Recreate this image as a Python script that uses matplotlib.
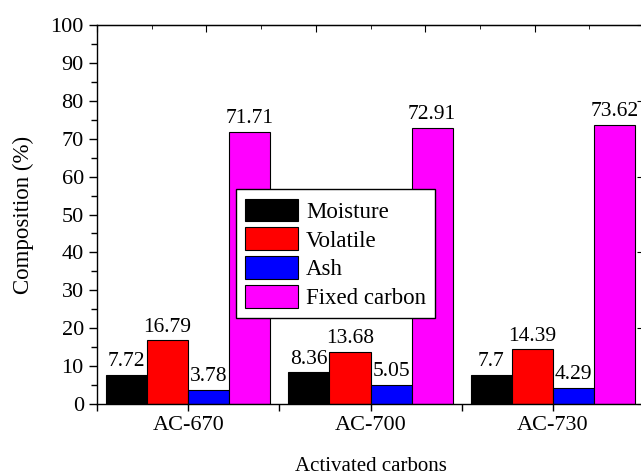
import numpy as np
import matplotlib
matplotlib.use('Agg')
import matplotlib.pyplot as plt
from matplotlib.ticker import MultipleLocator

plt.rcParams['font.family'] = ['Liberation Serif', 'DejaVu Serif']

samples = ['AC-670', 'AC-700', 'AC-730']
components = ['Moisture', 'Volatile', 'Ash', 'Fixed carbon']
moisture = [7.72, 8.36, 7.7]
volatile = [16.79, 13.68, 14.39]
ash = [3.78, 5.05, 4.29]
fixed_carbon = [71.71, 72.91, 73.62]
colors = ['#000000', '#ff0000', '#0000ff', '#ff00ff']

fig = plt.figure(figsize=(6.41, 4.75), dpi=100)
ax = fig.add_axes([97/641, 71/475, 547/641, 379/475])

x = np.arange(1, len(samples) + 1)
w = 0.225
series = [moisture, volatile, ash, fixed_carbon]
for i, (vals, name, c) in enumerate(zip(series, components, colors)):
    pos = x + (i - 1.5) * w
    ax.bar(pos, vals, width=w, color=c, edgecolor='black', linewidth=0.8, label=name)
    for p, v in zip(pos, vals):
        ax.text(p, v + 1.0, f'{v:g}', ha='center', va='bottom', fontsize=15.5)

ax.set_xlim(0.5, 3.5)
ax.set_ylim(0, 100)
ax.set_xticks(x)
ax.set_xticklabels(samples)
ax.xaxis.set_minor_locator(MultipleLocator(1, offset=0.5))
ax.yaxis.set_major_locator(MultipleLocator(10))
ax.yaxis.set_minor_locator(MultipleLocator(5))
ax.tick_params(axis='both', which='major', labelsize=16, direction='out', length=6, width=1)
ax.tick_params(axis='both', which='minor', direction='out', length=4, width=1)
ax.tick_params(axis='x', which='both', length=5)

for s in ax.spines.values():
    s.set_linewidth(1)

# decorative top / right axes (Origin style)
top = ax.secondary_xaxis('top', functions=(lambda t: (t - 0.5) * 10 / 3, lambda t: t * 3 / 10 + 0.5))
top.xaxis.set_major_locator(MultipleLocator(2))
top.xaxis.set_minor_locator(MultipleLocator(1))
top.tick_params(which='major', direction='in', length=5, labeltop=False)
top.tick_params(which='minor', direction='in', length=3)
right = ax.secondary_yaxis('right')
right.yaxis.set_major_locator(MultipleLocator(20))
right.tick_params(direction='in', length=5, labelright=False)

ax.set_ylabel('Composition (%)', fontsize=16.5, labelpad=12)
ax.set_xlabel('Activated carbons', fontsize=15, labelpad=16)

leg = ax.legend(loc='upper left', bbox_to_anchor=(0.254, 0.566), fontsize=16.5,
                frameon=True, fancybox=False, edgecolor='black', framealpha=1,
                handlelength=2.3, handleheight=1.15, labelspacing=0.2,
                handletextpad=0.35, borderpad=0.4, borderaxespad=0)
leg.get_frame().set_linewidth(1)

fig.savefig('out.png', dpi=100)
